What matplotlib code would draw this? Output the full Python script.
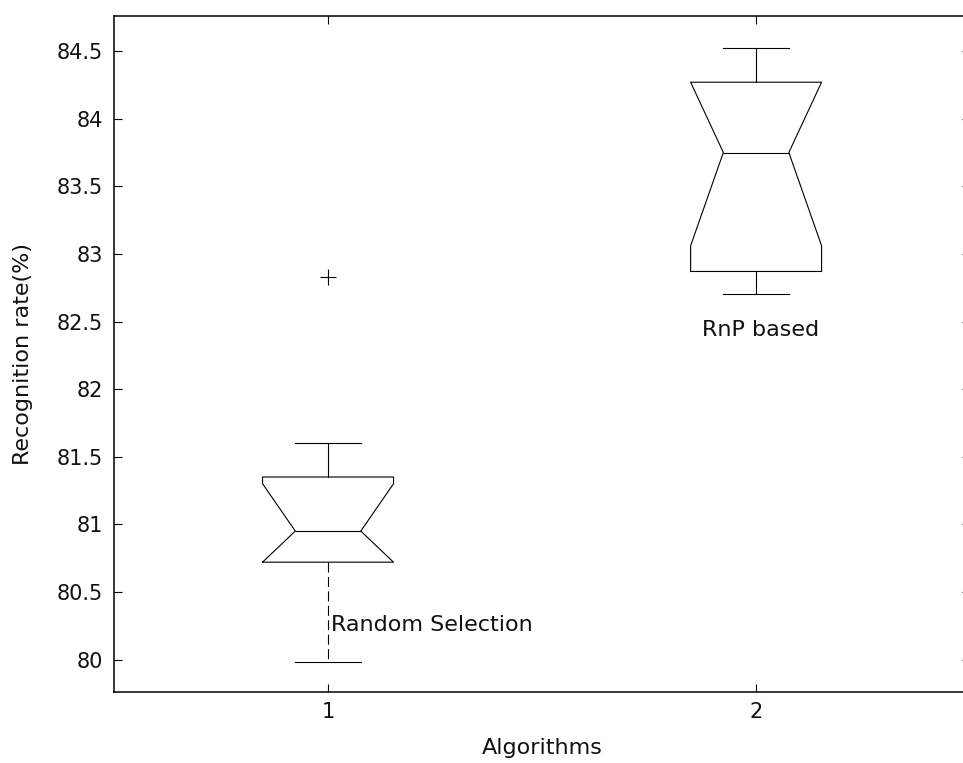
import matplotlib
matplotlib.use('Agg')
import matplotlib.pyplot as plt

# summary statistics per algorithm (recognition rate, %)
positions = [1, 2]
medians = [80.95, 83.75]
q1s = [80.72, 82.87]
q3s = [81.35, 84.27]
whislos = [79.98, 82.70]
whishis = [81.60, 84.52]
notch_lo = [80.72, 83.06]
notch_hi = [81.30, 84.27]
fliers = [[82.83], []]
box_labels = ["Random Selection", "RnP based"]
label_xy = [(1.007, 80.21), (2.01, 82.39)]

yticks = [80, 80.5, 81, 81.5, 82, 82.5, 83, 83.5, 84, 84.5]
ytick_labels = ["80", "80.5", "81", "81.5", "82", "82.5", "83", "83.5", "84", "84.5"]

plt.rcParams['font.family'] = 'DejaVu Sans'

fig = plt.figure(figsize=(9.63, 7.63), dpi=100)
ax = fig.add_axes([0.1184, 0.0931, 0.889, 0.886])

stats = []
for i in range(len(positions)):
    stats.append({
        "med": medians[i], "q1": q1s[i], "q3": q3s[i],
        "whislo": whislos[i], "whishi": whishis[i],
        "cilo": notch_lo[i], "cihi": notch_hi[i],
        "fliers": fliers[i],
    })

line_kw = dict(color='black', linewidth=0.8)
parts = ax.bxp(stats, positions=positions, widths=0.306, shownotches=True,
               boxprops=line_kw, medianprops=line_kw, whiskerprops=line_kw,
               capprops=line_kw,
               flierprops=dict(marker='+', markersize=12, markeredgecolor='black',
                               markeredgewidth=0.8, linestyle='none'))

# lower whisker of the first box is dashed
parts['whiskers'][0].set_linestyle((0, (9, 4)))

for (tx, ty), txt in zip(label_xy, box_labels):
    ha = 'left' if tx < 1.5 else 'center'
    ax.text(tx, ty, txt, ha=ha, va='baseline', fontsize=16, color='#111111')

ax.set_xlim(0.5, 2.5)
ax.set_ylim(79.76, 84.76)
ax.set_xticks(positions)
ax.set_xticklabels(["1", "2"])
ax.set_yticks(yticks)
ax.set_yticklabels(ytick_labels)

ax.tick_params(direction='in', length=6, width=0.8, labelsize=15,
               top=True, right=True, colors='black', labelcolor='#111111')
ax.tick_params(axis='y', pad=8)
ax.tick_params(axis='x', pad=7)
for s in ax.spines.values():
    s.set_linewidth(1.1)
    s.set_color('black')

ax.set_xlabel('Algorithms', fontsize=16, color='#111111', labelpad=12)
ax.set_ylabel('Recognition rate(%)', fontsize=16, color='#111111', labelpad=17)

fig.savefig('out.png', dpi=100)
